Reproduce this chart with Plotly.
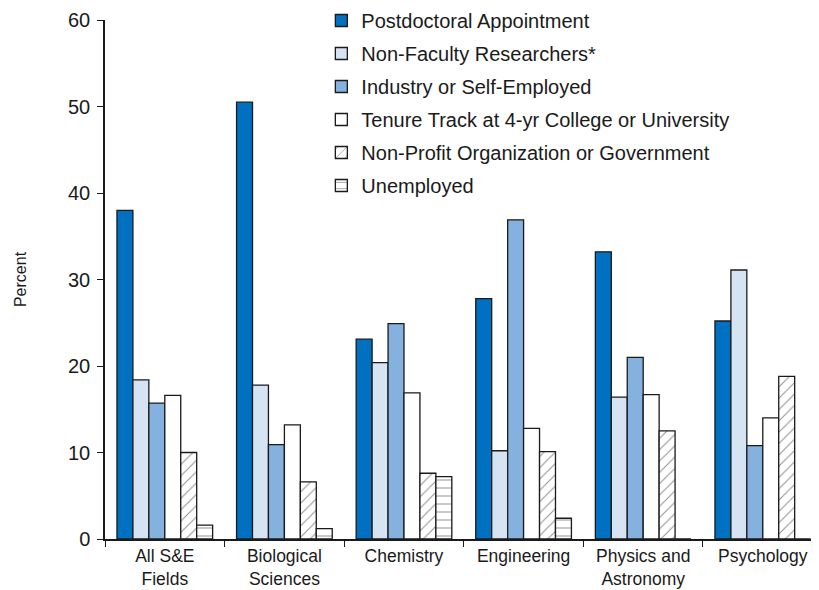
import plotly.graph_objects as go

fields = [
    "All S&E<br>Fields",
    "Biological<br>Sciences",
    "Chemistry",
    "Engineering",
    "Physics and<br>Astronomy",
    "Psychology",
]

postdoc = [38.0, 50.5, 23.1, 27.8, 33.2, 25.2]
non_faculty = [18.4, 17.8, 20.4, 10.2, 16.4, 31.1]
industry = [15.7, 10.9, 24.9, 36.9, 21.0, 10.8]
tenure = [16.6, 13.2, 16.9, 12.8, 16.7, 14.0]
non_profit = [10.0, 6.6, 7.6, 10.1, 12.5, 18.8]
unemployed = [1.6, 1.2, 7.2, 2.4, 0, 0]

series = [
    ("Postdoctoral Appointment", postdoc, "#0070c0", ""),
    ("Non-Faculty Researchers*", non_faculty, "#d5e3f3", ""),
    ("Industry or Self-Employed", industry, "#85b1df", ""),
    ("Tenure Track at 4-yr College or University", tenure, "#ffffff", ""),
    ("Non-Profit Organization or Government", non_profit, "#ffffff", "/"),
    ("Unemployed", unemployed, "#ffffff", "-"),
]

font = "Arial, Liberation Sans, sans-serif"

fig = go.Figure()
for i, (name, vals, color, shape) in enumerate(series):
    marker = dict(color=color, line=dict(color="#1a1a1a", width=1.3))
    if shape:
        marker["pattern"] = dict(
            shape=shape, fgcolor="#1a1a1a", bgcolor="#ffffff", size=8, solidity=0.12
        )
    fig.add_trace(
        go.Bar(x=fields, y=vals, name=name, marker=marker, legendgroup=str(i))
    )

# page body has an 8px margin, so the figure is a bit smaller than the window
fig.update_layout(
    width=811,
    height=582,
    margin=dict(l=97, r=0, t=12, b=51, autoexpand=False),
    plot_bgcolor="white",
    paper_bgcolor="white",
    font=dict(family=font, size=17, color="#1a1a1a"),
    barmode="group",
    bargap=0.2,
    bargroupgap=0,
    legend=dict(
        x=0.303,
        y=1.0366,
        xanchor="left",
        yanchor="top",
        font=dict(size=20),
        traceorder="grouped",
        tracegroupgap=4,
        bgcolor="rgba(0,0,0,0)",
    ),
)
fig.update_xaxes(
    range=[-0.5, 5.47],
    showline=True,
    linecolor="#1a1a1a",
    linewidth=1.5,
    ticks="outside",
    tickson="boundaries",
    ticklen=6,
    tickcolor="#1a1a1a",
    tickfont=dict(size=17.5),
    automargin=False,
)
fig.update_yaxes(
    range=[0, 60],
    dtick=10,
    showline=True,
    linecolor="#1a1a1a",
    linewidth=1.5,
    ticks="outside",
    ticklen=6,
    tickcolor="#1a1a1a",
    ticklabelstandoff=3,
    showgrid=False,
    zeroline=False,
    tickfont=dict(size=20),
    title=dict(text="Percent", font=dict(size=16), standoff=37),
    automargin=False,
)

fig.write_html("out.html")
